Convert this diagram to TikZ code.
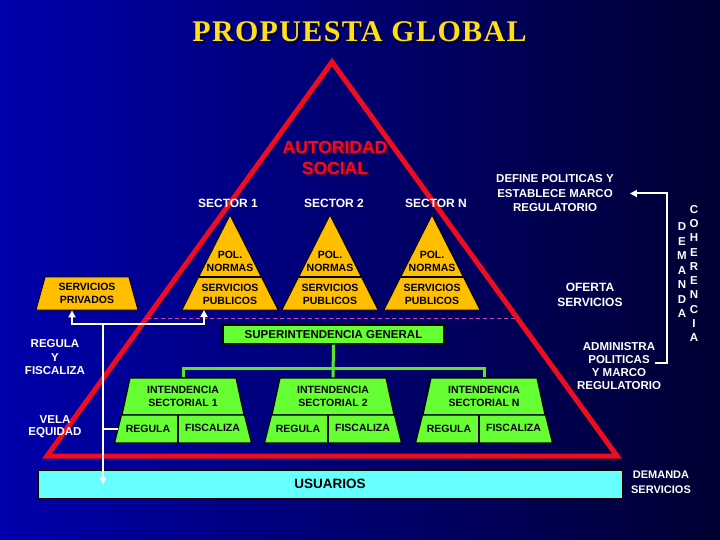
\documentclass[tikz,border=0pt]{standalone}
\usepackage{fontspec}
\setmainfont{Liberation Sans}
\newfontfamily\titulofont[LetterSpace=4.5]{Liberation Serif}
\usetikzlibrary{arrows.meta,calc,positioning,shapes.geometric}

\definecolor{fondoizq}{RGB}{0,0,172}
\definecolor{fondoder}{RGB}{0,0,50}
\definecolor{rojo}{RGB}{240,12,30}
\definecolor{rojosombra}{RGB}{110,0,40}
\definecolor{amarillo}{RGB}{255,190,0}
\definecolor{verde}{RGB}{102,255,51}
\definecolor{celeste}{RGB}{102,255,255}
\definecolor{oro}{RGB}{255,222,20}
\definecolor{rosa}{RGB}{200,70,160}

\tikzset{
	letra/.style={font=\bfseries\fontsize{11.5}{13.5}\selectfont, text=white, align=center, inner sep=0pt},
	chica/.style={font=\bfseries\fontsize{10.5}{13}\selectfont, text=black, align=center, inner sep=0pt},
	piramide/.style={fill=amarillo, draw=black, line width=0.8pt},
	caja/.style={trapezium, trapezium stretches=true, trapezium angle=76, draw=black, line width=1.2pt,
		fill=verde, inner sep=1pt, align=center, font=\bfseries\fontsize{10.5}{13}\selectfont},
	celda/.style={fill=verde, draw=black, line width=1.2pt},
	flecha/.style={draw=white, line width=2pt, -{Triangle[length=7pt,width=7pt]}},
	blanca/.style={draw=white, line width=2pt},
	enlace/.style={draw=verde!90!black, line width=3pt},
	trazo/.style={draw=rosa, line width=1pt, dash pattern=on 4pt off 3pt},
	autoridad/.style={font=\bfseries\fontsize{17.5}{21}\selectfont, align=center, inner sep=0pt}
}

\begin{document}
\begin{tikzpicture}[x=1pt,y=-1pt]
	\useasboundingbox (0,0) rectangle (720,540);
	\shade[left color=fondoizq, right color=fondoder] (0,0) rectangle (720,540);

	\node[font=\titulofont\bfseries\fontsize{30}{36}\selectfont, text=black!80!blue, inner sep=0pt] (sombra) at (361,33.5) {PROPUESTA GLOBAL};
	\node[font=\titulofont\bfseries\fontsize{30}{36}\selectfont, text=oro, inner sep=0pt] (titulo) at (359.5,32) {PROPUESTA GLOBAL};

	\draw[rojo, line width=5pt, line join=miter]
		(332,62) coordinate (cima) -- (617,456) coordinate (bder) -- (47,456) coordinate (bizq) -- cycle;

	\node[autoridad, text=rojosombra] (autoridadS) at (336.5,159) {AUTORIDAD\\SOCIAL};
	\node[autoridad, text=rojo] (autoridad) at (335,157.5) {AUTORIDAD\\SOCIAL};

	\foreach \x/\s/\n in {230/228/1, 330/334/2, 432/436/N}{
		\node[letra, font=\bfseries\fontsize{12}{14}\selectfont] (sec\n) at (\s,203) {SECTOR \n};
		\filldraw[piramide] (\x,215) -- ++(48,95) -- ++(-96,0) -- cycle;
		\draw[line width=1.8pt] ({\x-31.3},277) -- ({\x+31.3},277);
		\node[chica] (pol\n) at (\x,261) {POL.\\NORMAS};
		\node[chica] (pub\n) at (\x,294) {SERVICIOS\\PUBLICOS};
		\coordinate (pie\n) at ({\x-26},310);
	}

	\node[caja, fill=amarillo, line width=0.8pt, trapezium angle=74, minimum width=102pt, minimum height=33pt] (privados) at (87,293.5) {SERVICIOS\\PRIVADOS};

	\draw[trazo] ($(bizq)!0.35!(cima)$) -- ($(bder)!0.35!(cima)$);

	\node[draw=black, line width=1.2pt, fill=verde, minimum width=221pt, minimum height=19pt, inner sep=0pt,
		font=\bfseries\fontsize{11.5}{13}\selectfont] (super) at (333.5,334.5) {SUPERINTENDENCIA GENERAL};

	\foreach \x/\n in {183/1, 333/2, 484/N}{
		\node[caja, minimum width=123pt, minimum height=37pt] (int\n) at (\x,396.5) {INTENDENCIA\\SECTORIAL \n};
		\filldraw[celda] ({\x-61.5},415) -- ({\x+61.5},415) -- ({\x+68.5},443) -- ({\x-68.5},443) -- cycle;
		\draw[line width=1.2pt] ({\x-5},415) -- ({\x-5},443);
		\coordinate (inf\n) at ({\x-65},429);
		\node[chica] (reg\n) at ({\x-35},429) {REGULA};
		\node[chica] (fis\n) at ({\x+29.5},428) {FISCALIZA};
	}

	\draw[enlace] (super.south) -- (int2.north);
	\draw[enlace] (int1.north) -- ++(0,-9) -| (intN.north);

	\node[draw=black, fill=celeste, minimum width=584pt, minimum height=28pt, inner sep=0pt,
		font=\bfseries\fontsize{13.5}{16}\selectfont] (usuarios) at (330,484) {USUARIOS};

	\coordinate (eje) at (103,324);
	\draw[flecha] (eje) -| ([xshift=-15pt]privados.south);
	\draw[flecha] (eje) -| (pie1);
	\draw[flecha] (eje) -- (eje |- usuarios.center);
	\draw[blanca] (eje |- inf1) -- (inf1);

	\node[letra] (regula) at (55,357.5) {REGULA\\Y\\FISCALIZA};
	\node[letra, font=\bfseries\fontsize{11.5}{12}\selectfont] (vela) at (55,427) {VELA\\EQUIDAD};

	\node[letra, font=\bfseries\fontsize{11.5}{14.5}\selectfont] (define) at (555,193.5) {DEFINE POLITICAS Y\\ESTABLECE MARCO\\REGULATORIO};
	\node[letra, font=\bfseries\fontsize{12}{15}\selectfont] (oferta) at (590,294.5) {OFERTA\\SERVICIOS};
	\node[letra, font=\bfseries\fontsize{11.5}{13}\selectfont] (administra) at (619,366.5) {ADMINISTRA\\POLITICAS\\Y MARCO\\REGULATORIO};

	\coordinate (retorno) at (655,363);
	\draw[flecha] (retorno) -- ++(12,0) |- ([xshift=16pt]define.east);

	\node[letra, font=\bfseries\fontsize{11.5}{14.5}\selectfont] (demanda) at (682,270.5) {D\\E\\M\\A\\N\\D\\A};
	\node[letra, font=\bfseries\fontsize{11.5}{14.3}\selectfont] (coherencia) at (694,273.5) {C\\O\\H\\E\\R\\E\\N\\C\\I\\A};

	\node[letra, font=\bfseries\fontsize{11}{15}\selectfont] (demserv) at (661,482.5) {DEMANDA\\SERVICIOS};
\end{tikzpicture}
\end{document}
